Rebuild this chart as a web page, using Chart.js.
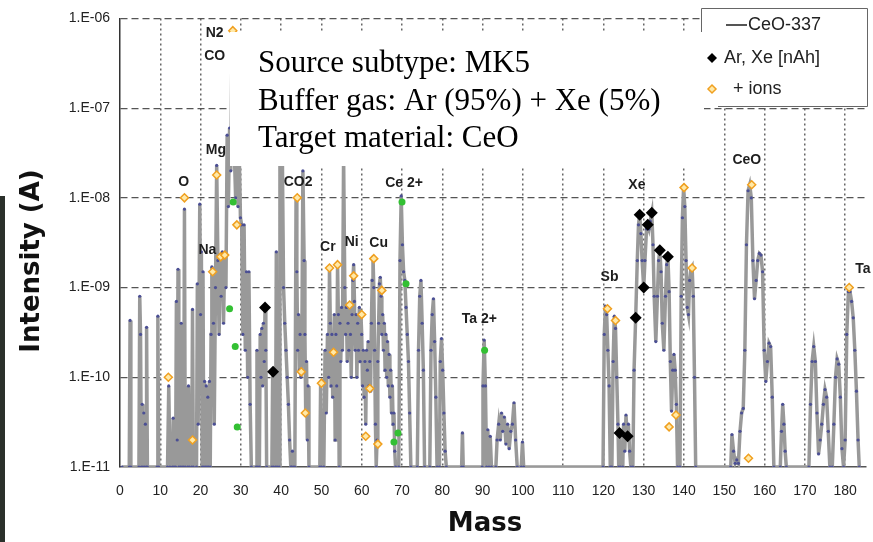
<!DOCTYPE html>
<html>
<head>
<meta charset="utf-8">
<script src="https://cdn.jsdelivr.net/npm/chart.js@4.4.0/dist/chart.umd.min.js"></script>
<style>
  html, body { margin: 0; padding: 0; background: #fff; }
</style>
</head>
<body>
<canvas id="myChart" width="873" height="542"></canvas>
<script>
// scan of CeO-337 target, [mass, intensity in A]
const spectrum = [
  [0.5,1e-11],[2.3,1e-11],[2.5,4.3e-10],[2.7,1e-11],
  [4.7,1e-11],[4.9,8e-10],[5.1,3e-10],[5.3,1e-11],[5.5,5e-11],[5.7,1e-11],[5.9,4e-11],[6.1,1e-11],[6.3,3e-11],[6.5,1e-11],[6.6,3.6e-10],[6.8,1e-11],
  [9.2,1e-11],[9.4,4.8e-10],[9.6,1e-11],
  [11.8,1e-11],[12.1,8e-11],[12.4,1e-11],[13.0,1e-11],[13.2,3.5e-11],[13.4,1e-11],[13.8,1e-11],[14.0,7e-10],[14.2,2e-11],[14.4,1.6e-9],[14.6,1e-11],
  [15.0,1e-11],[15.2,4e-10],[15.4,1e-11],[15.8,1e-11],[16.0,7.5e-9],[16.2,1e-11],[16.8,1e-11],[17.0,8e-11],[17.2,1e-11],[17.8,1e-11],[18.0,5.7e-10],[18.2,1e-11],
  [19.0,1e-11],[19.2,1.1e-9],[19.4,3e-11],[19.8,8.5e-9],[20.0,5e-10],[20.2,2.5e-9],[20.4,1e-11],[20.6,1.5e-9],[20.8,1e-11],[21.0,9e-11],[21.2,1e-11],[21.4,8e-11],[21.6,1e-11],[21.8,6e-11],[22.0,1e-11],
  [22.2,9e-11],[22.4,1e-11],[22.6,3e-10],[22.8,1.7e-9],[23.0,1.5e-9],[23.2,4e-10],[23.4,3e-11],[23.7,1e-9],[24.0,2.3e-8],[24.3,2e-9],[24.6,3e-10],[24.9,2.2e-9],[25.1,8e-10],[25.4,2.5e-9],[25.7,4e-10],[26.0,2.3e-9],[26.3,1e-9],
  [26.6,5e-8],[26.9,8e-9],[27.2,6e-8],[27.5,2e-8],[27.8,5e-7],[28.1,4e-7],[28.4,3e-8],[28.7,1e-8],[29.0,5e-8],[29.3,8e-9],[29.6,3e-8],[29.9,6e-9],[30.2,5e-9],[30.5,3e-10],[30.8,5e-9],[31.1,2e-10],[31.4,1.5e-9],[31.7,1e-10],[32.0,1.5e-9],[32.3,5e-11],[32.6,1e-11],
  [33.8,1e-11],[34.0,2e-10],[34.2,1e-11],[34.6,1e-11],[34.8,3e-10],[35.0,1e-10],[35.2,3.5e-10],[35.4,8e-11],[35.6,4e-10],[35.8,1.5e-10],[36.0,6e-10],[36.2,2e-10],[36.4,1e-11],
  [37.7,1e-11],[37.9,1.15e-10],[38.1,1e-11],[38.6,1e-11],[38.8,2.5e-9],[39.0,1e-11],[39.5,1e-11],[39.7,5e-8],[40.0,3e-7],[40.3,3e-8],[40.6,1e-9],[40.9,4e-10],[41.2,2e-10],[41.5,1e-10],[41.8,5e-11],[42.1,2e-11],[42.4,1e-11],
  [42.6,1e-11],[42.8,1.5e-11],[43.0,1e-11],[43.4,1e-11],[43.7,1e-8],[43.9,1.5e-9],[44.1,2e-10],[44.3,5e-10],[44.5,1.2e-10],[44.7,3e-10],[44.9,1e-10],[45.1,1.2e-10],[45.4,2e-8],[45.7,2e-9],[45.9,3e-10],[46.1,4e-11],[46.3,1.5e-10],[46.5,2e-11],[46.7,8e-11],[46.9,1e-11],
  [49.6,1e-11],[49.8,8.6e-11],[50.0,1e-11],
  [50.6,1e-11],[50.9,2e-10],[51.2,4e-11],[51.5,3e-10],[51.8,1e-10],[52.0,1.7e-9],[52.2,4e-10],[52.4,8e-11],[52.6,3e-10],[52.8,6e-11],[53.0,1.9e-10],[53.2,5e-10],[53.4,2e-11],[53.6,3e-10],[53.8,8e-11],[54.0,1.8e-9],[54.2,5e-10],[54.4,1e-11],[54.6,4e-10],[54.8,1.5e-10],[55.0,6e-10],[55.2,2e-10],
  [55.5,3e-8],[55.8,1e-9],[56.0,3e-10],[56.2,6e-10],[56.4,1.5e-10],[56.6,4e-10],[56.8,2e-10],[57.0,6.4e-10],[57.2,3e-10],[57.4,1e-10],[57.6,5e-10],[57.8,1.2e-9],[58.0,1.8e-9],[58.2,7e-10],[58.4,2e-10],[58.6,5e-10],[58.8,1e-10],[59.0,4e-10],[59.2,2e-10],[59.4,6e-10],[59.6,1.5e-10],[59.8,5e-10],
  [60.0,3e-10],[60.2,8e-11],[60.4,2e-10],[60.6,6e-11],[60.8,1.5e-10],[61.0,3e-11],[61.2,2e-10],[61.4,1.2e-10],[61.6,2.5e-10],[61.8,8e-11],[62.0,1.5e-10],[62.2,7e-11],[62.4,4e-10],[62.6,1.2e-9],[62.8,2.2e-9],[63.0,1e-9],[63.2,2e-10],[63.4,3e-11],[63.6,1e-11],[63.8,2e-11],
  [64.0,1.5e-10],[64.2,4e-10],[64.4,1.1e-9],[64.6,1.3e-9],[64.8,8e-10],[65.0,3e-10],[65.2,5e-10],[65.4,2e-10],[65.6,4e-10],[65.8,1.2e-10],[66.0,3e-10],[66.2,1e-10],[66.4,2.5e-10],[66.6,8e-11],[66.8,1.8e-10],[67.0,6e-11],[67.2,1.2e-10],[67.4,4e-11],[67.6,8e-11],[67.8,3e-11],[68.0,4e-11],[68.2,1.5e-11],[68.4,1e-11],
  [69.2,1e-11],[69.5,2e-9],[69.8,1.05e-8],[70.1,3e-9],[70.4,1.5e-9],[70.7,1.2e-9],[71.0,6e-10],[71.3,3e-10],[71.6,1.5e-10],[71.9,4e-11],[72.2,1e-11],
  [73.8,1e-11],[74.1,2e-10],[74.4,8e-10],[74.7,1.2e-9],[75.0,4e-10],[75.3,1.2e-10],[75.6,1e-11],[76.9,1e-11],[77.2,2e-10],[77.5,5e-10],[77.8,7.5e-10],[78.1,2.5e-10],[78.4,6e-11],[78.7,1e-11],
  [79.3,1e-11],[79.5,1.5e-10],[79.8,2.7e-10],[80.1,1.2e-10],[80.4,4e-11],[80.7,1.5e-11],[81.0,1e-11],
  [84.8,1e-11],[85.0,2.4e-11],[85.2,1e-11],[89.9,1e-11],[90.1,8e-11],[90.4,2.6e-10],[90.7,8e-11],[91.0,1e-11],[91.3,2.6e-11],[91.6,1e-11],[91.9,2.2e-11],[92.2,1e-11],
  [93.3,1e-11],[93.6,2e-11],[94.0,3e-11],[94.4,2e-11],[94.7,4e-11],[95.0,2.5e-11],[95.4,3.6e-11],[95.8,1.8e-11],[96.2,3e-11],[96.6,1.6e-11],[97.0,2.5e-11],[97.4,3e-11],[97.8,5.2e-11],[98.2,2e-11],[98.6,1e-11],
  [99.6,1e-11],[99.9,1.9e-11],[100.2,1e-11],
  [119.9,1e-11],[120.2,3e-10],[120.5,6.2e-10],[120.8,5e-10],[121.1,2e-10],[121.4,8e-11],[121.7,1e-11],[122.1,1e-11],[122.4,1.5e-10],[122.7,4.8e-10],[123.0,3.5e-10],[123.3,1e-10],[123.6,3e-11],[123.8,1e-11],[124.0,2.4e-11],[124.2,1e-11],
  [124.8,1e-11],[125.0,3e-11],[125.3,1.5e-11],[125.6,3.8e-11],[125.9,2.2e-11],[126.2,3e-11],[126.5,1.5e-11],[126.8,1e-11],
  [127.3,1e-11],[127.6,1.2e-10],[128.0,4.6e-10],[128.4,2e-9],[128.7,5e-9],[129.0,6.5e-9],[129.3,4e-9],[129.6,2e-9],[130.0,1e-9],[130.3,2e-9],[130.7,4.5e-9],[131.0,5e-9],[131.3,4.5e-9],[131.6,5.5e-9],[132.0,6.8e-9],[132.3,3e-9],[132.6,8e-10],
  [133.0,2.5e-10],[133.4,8e-10],[133.7,2e-9],[134.0,2.6e-9],[134.3,1.5e-9],[134.6,4e-10],[135.0,2e-10],[135.4,8e-10],[135.7,1.8e-9],[136.0,2.2e-9],[136.3,9e-10],[136.6,1.5e-10],[136.9,4.2e-11],[137.2,1.2e-10],[137.5,1.8e-10],[137.8,1.2e-10],[138.1,5e-11],[138.4,1e-11],
  [139.0,1e-11],[139.3,8e-10],[139.6,6e-9],[139.9,1.3e-8],[140.2,8e-9],[140.5,2e-9],[140.8,6e-10],[141.1,5e-10],[141.4,1.2e-9],[141.7,1.6e-9],[142.0,1.7e-9],[142.3,8e-10],[142.6,1e-10],[142.9,1e-11],
  [151.6,1e-11],[151.9,2.3e-11],[152.3,1.5e-11],[152.7,1.1e-11],[153.1,1.2e-11],[153.5,1.1e-11],[153.9,2.5e-11],[154.3,4e-11],[154.7,4.5e-11],[155.1,2e-10],[155.5,3e-9],[155.9,1.2e-8],[156.3,1.4e-8],[156.7,1e-8],[157.1,2e-9],[157.5,7.5e-10],
  [157.9,1.2e-9],[158.3,2e-9],[158.7,2.4e-9],[159.1,2.3e-9],[159.5,1.5e-9],[159.9,2e-10],[160.3,9e-11],[160.7,1.5e-10],[161.1,2.4e-10],[161.5,2.2e-10],[161.9,6e-11],[162.3,1e-11],
  [163.9,1e-11],[164.2,2.5e-11],[164.5,5e-11],[164.8,3e-11],[165.1,1.5e-11],[165.4,1e-11],
  [171.0,1e-11],[171.4,5e-11],[171.8,1.5e-10],[172.2,2.2e-10],[172.6,1.5e-10],[173.0,4e-11],[173.4,1.4e-11],[173.8,2e-11],[174.2,3e-11],[174.6,5e-11],[175.0,7.3e-11],[175.4,6e-11],[175.8,2.5e-11],[176.2,1e-11],
  [176.8,1e-11],[177.2,3e-11],[177.6,1e-10],[178.0,1.6e-10],[178.4,1.4e-10],[178.8,6e-11],[179.2,1.6e-11],[179.6,1e-11],[180.0,2e-11],[180.4,3e-10],[180.8,9e-10],[181.2,9e-10],[181.6,7e-10],[182.0,4.6e-10],[182.4,2e-10],[182.8,7e-11],[183.2,2e-11],[183.5,1e-11]
];

// Ar and Xe isotopes
const arXe = [[36,6e-10],[38,1.15e-10],[124,2.4e-11],[126,2.2e-11],[128,4.6e-10],[129,6.5e-9],[130,1e-9],[131,5e-9],[132,6.8e-9],[134,2.6e-9],[136,2.2e-9]];

// + ions
const ions = [[12,1e-10],[16,1e-8],[18,2e-11],[23,1.5e-9],[24,1.8e-8],[25,2.2e-9],[26,2.3e-9],[28,7.3e-7],[29,5e-9],
  [44,1e-8],[45,1.15e-10],[46,4e-11],[50,8.6e-11],[52,1.65e-9],[53,1.9e-10],[54,1.8e-9],[57,6.4e-10],[58,1.35e-9],[60,5e-10],[61,2.2e-11],[62,7.5e-11],[63,2.1e-9],[64,1.8e-11],[65,9.3e-10],
  [121,5.8e-10],[123,4.3e-10],[136.3,2.8e-11],[138,3.8e-11],[140,1.3e-8],[142,1.65e-9],[156,1.25e-11],[156.8,1.4e-8],[181,1e-9]];

// 2+ ions
const ions2 = [[27.2,5.8e-10],[28.1,9e-9],[28.6,2.2e-10],[29.1,2.8e-11],[68,1.9e-11],[69,2.4e-11],[70,9e-9],[71,1.1e-9],[90.5,2e-10]];

const peakLabels = ['N2','CO','Mg','O','Na','CO2','Cr','Ni','Cu','Ce 2+','Ta 2+','Sb','Xe','CeO','Ta'];
const peakMass   = [23.5, 23.5, 23.8, 15.8, 21.7, 44.2, 51.6, 57.5, 64.2, 70.5, 89.2, 121.5, 128.3, 155.6, 184.4];
const peakLevel  = [6.8e-7, 3.8e-7, 3.4e-8, 1.5e-8, 2.6e-9, 1.5e-8, 2.8e-9, 3.2e-9, 3.1e-9, 1.45e-8, 4.5e-10, 1.3e-9, 1.4e-8, 2.6e-8, 1.6e-9];

const xTicks = [0,10,20,30,40,50,60,70,80,90,100,110,120,130,140,150,160,170,180];
const yTicks = [1e-11,1e-10,1e-9,1e-8,1e-7,1e-6];
const yTickLabels = ['1.E-11','1.E-10','1.E-09','1.E-08','1.E-07','1.E-06'];

const legendItems = ['CeO-337', 'Ar, Xe [nAh]', '+ ions'];
const infoLines = ['Source subtype: MK5', 'Buffer gas: Ar (95%) + Xe (5%)', 'Target material: CeO'];

const toXY = arr => arr.map(p => ({x: p[0], y: p[1]}));

const overlay = {
  id: 'overlay',
  afterDatasetsDraw(chart) {
    const {ctx, scales: {x, y}} = chart;
    ctx.save();
    ctx.font = 'bold 14px "Liberation Sans", Arial, sans-serif';
    ctx.fillStyle = '#1e1e1e';
    ctx.textAlign = 'center';
    ctx.textBaseline = 'middle';
    peakLabels.forEach((t, i) => {
      ctx.fillText(t, x.getPixelForValue(peakMass[i]), y.getPixelForValue(peakLevel[i]));
    });
    ctx.restore();
  },
  afterDraw(chart) {
    const ctx = chart.ctx;
    ctx.save();

    // scan edge on the left
    ctx.fillStyle = '#2b302b';
    ctx.fillRect(0, 196, 5, 346);

    // info box over the plot (drawn first, legend sits on top)
    ctx.fillStyle = '#fff';
    ctx.fillRect(230, 32, 474, 134);
    ctx.fillStyle = '#000';
    ctx.font = '31px "Liberation Serif", "Times New Roman", serif';
    ctx.textBaseline = 'alphabetic';
    ctx.textAlign = 'left';
    ctx.fillText(infoLines[0], 258, 72);
    ctx.fillText(infoLines[1], 258, 110);
    ctx.fillText(infoLines[2], 258, 147);

    // legend
    ctx.fillStyle = '#fff';
    ctx.fillRect(701, 8, 166, 98);
    ctx.strokeStyle = '#666';
    ctx.lineWidth = 1;
    ctx.beginPath();
    ctx.moveTo(701.5, 32); ctx.lineTo(701.5, 8.5); ctx.lineTo(867.5, 8.5); ctx.lineTo(867.5, 106.5); ctx.lineTo(718, 106.5);
    ctx.stroke();

    ctx.font = '18px "Liberation Sans", Arial, sans-serif';
    ctx.textBaseline = 'middle';
    ctx.fillStyle = '#222';

    ctx.strokeStyle = '#555';
    ctx.lineWidth = 2;
    ctx.beginPath(); ctx.moveTo(726, 25); ctx.lineTo(747, 25); ctx.stroke();
    ctx.fillText(legendItems[0], 748, 25);

    ctx.fillStyle = '#000';
    ctx.beginPath();
    ctx.moveTo(712, 53); ctx.lineTo(717, 58); ctx.lineTo(712, 63); ctx.lineTo(707, 58); ctx.closePath();
    ctx.fill();
    ctx.fillStyle = '#222';
    ctx.fillText(legendItems[1], 724, 58);

    ctx.fillStyle = '#ffe9a8';
    ctx.strokeStyle = '#f0a020';
    ctx.lineWidth = 1.5;
    ctx.beginPath();
    ctx.moveTo(712, 85); ctx.lineTo(716, 89); ctx.lineTo(712, 93); ctx.lineTo(708, 89); ctx.closePath();
    ctx.fill(); ctx.stroke();
    ctx.fillStyle = '#222';
    ctx.fillText(legendItems[2], 733, 89);

    // axis titles
    ctx.fillStyle = '#111';
    ctx.font = 'bold 26px "DejaVu Sans", sans-serif';
    ctx.textAlign = 'center';
    ctx.textBaseline = 'middle';
    ctx.fillText('Mass', 485, 524);
    ctx.translate(32, 261);
    ctx.rotate(-Math.PI / 2);
    ctx.fillText('Intensity (A)', 0, 0);

    ctx.restore();
  }
};

const ctx = document.getElementById('myChart');

new Chart(ctx, {
  type: 'scatter',
  data: {
    datasets: [
      {
        label: 'Ar, Xe [nAh]',
        data: toXY(arXe),
        pointStyle: 'rectRot',
        pointRadius: 6,
        backgroundColor: '#000',
        borderColor: '#000',
        borderWidth: 0,
        order: 0
      },
      {
        label: '+ ions',
        data: toXY(ions),
        pointStyle: 'rectRot',
        pointRadius: 4,
        backgroundColor: '#ffe9a8',
        borderColor: '#f0a020',
        borderWidth: 1.5,
        order: 1
      },
      {
        label: '2+ ions',
        data: toXY(ions2),
        pointStyle: 'circle',
        pointRadius: 3.5,
        backgroundColor: '#33c033',
        borderColor: '#33c033',
        borderWidth: 0,
        order: 2
      },
      {
        label: 'CeO-337',
        data: toXY(spectrum),
        showLine: true,
        borderColor: '#999',
        borderWidth: 3.5,
        pointRadius: 1.6,
        pointBackgroundColor: '#4b4f94',
        pointBorderWidth: 0,
        tension: 0,
        order: 3
      }
    ]
  },
  options: {
    responsive: false,
    animation: false,
    layout: { padding: { top: 15, right: 3, bottom: 0, left: 0 } },
    plugins: {
      legend: { display: false },
      tooltip: { enabled: false }
    },
    scales: {
      x: {
        type: 'linear',
        min: 0,
        max: 185,
        afterBuildTicks: s => { s.ticks = xTicks.map(v => ({value: v})); },
        afterFit: s => { s.height = 75; },
        ticks: {
          padding: 16,
          color: '#222',
          font: { family: '"Liberation Sans", Arial, sans-serif', size: 14 }
        },
        grid: {
          drawTicks: false,
          color: c => (c.tick && c.tick.value === 0) ? 'rgba(0,0,0,0)' : '#666',
          lineWidth: 1.5
        },
        border: { display: true, color: '#555', width: 1.5, dash: [2, 3] }
      },
      y: {
        type: 'logarithmic',
        min: 1e-11,
        max: 1e-6,
        afterBuildTicks: s => { s.ticks = yTicks.map(v => ({value: v})); },
        afterFit: s => { s.width = 120; },
        ticks: {
          padding: 10,
          color: '#222',
          font: { family: '"Liberation Sans", Arial, sans-serif', size: 14 },
          callback: v => yTickLabels[yTicks.indexOf(v)]
        },
        grid: {
          drawTicks: false,
          color: c => (c.tick && c.tick.value === 1e-11) ? 'rgba(0,0,0,0)' : '#555',
          lineWidth: 1.2
        },
        border: { display: true, color: '#333', width: 1.5, dash: [7, 4] }
      }
    }
  },
  plugins: [overlay]
});
</script>
</body>
</html>
